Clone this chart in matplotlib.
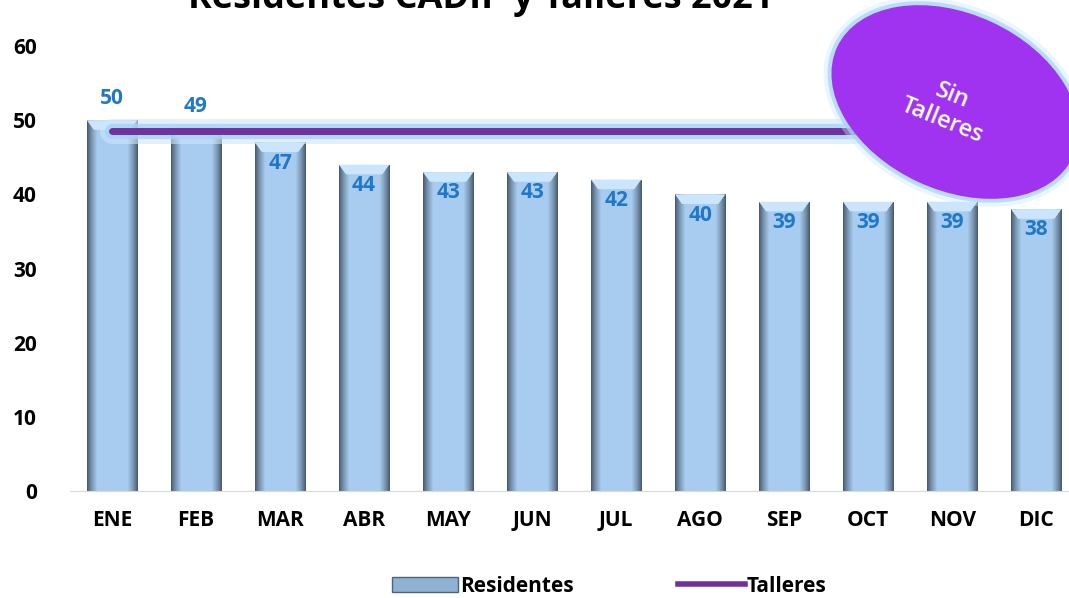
import matplotlib.pyplot as plt
import matplotlib.patheffects as pe
from matplotlib.patches import Ellipse, Polygon, Patch
from matplotlib.lines import Line2D
import numpy as np

plt.rcParams['font.family'] = ['Open Sans', 'DejaVu Sans']

# datos
meses = ['ENE', 'FEB', 'MAR', 'ABR', 'MAY', 'JUN', 'JUL', 'AGO', 'SEP', 'OCT', 'NOV', 'DIC']
residentes = [50, 49, 47, 44, 43, 43, 42, 40, 39, 39, 39, 38]
talleres = [48.5, 48.5, 48.5, 48.5, 48.5, 48.5, 48.5, 48.5, 48.5, 48.5]
y_ticks = [0, 10, 20, 30, 40, 50, 60]

fig = plt.figure(figsize=(10.69, 5.98), dpi=100)
ax = fig.add_axes([0.0655, 0.179, 0.9345, 0.744])

x = np.arange(len(meses))
ancho = 0.6
barras = ax.bar(x, residentes, width=ancho, color='#A9CDF0', zorder=2)

# efecto biselado: degradado horizontal recortado a cada barra
grad = np.linspace(0, 1, 100)
perfil = np.clip(np.minimum(grad, 1 - grad) / 0.2, 0, 1) ** 0.8
oscuro = np.array([0.27, 0.34, 0.42])
claro = np.array([0.66, 0.80, 0.94])
img = oscuro[None, :] + (claro - oscuro)[None, :] * perfil[:, None]
img = img[None, :, :]
for b, v in zip(barras, residentes):
    x0 = b.get_x()
    w = b.get_width()
    im = ax.imshow(img, extent=[x0, x0 + w, 0, v], aspect='auto', zorder=2.5,
                   interpolation='bilinear')
    im.set_clip_path(b)
    # tapa superior
    d = 0.14 * w
    tapa = Polygon([[x0, v], [x0 + w, v], [x0 + w - d, v - 1.3], [x0 + d, v - 1.3]],
                   closed=True, facecolor='#CBE6FC', edgecolor='none', zorder=3)
    ax.add_patch(tapa)

ax.set_xlim(-0.5, 11.39)
ax.set_ylim(0, 60)

# linea talleres con brillo
xt = np.arange(len(talleres))
ax.plot(xt, talleres, color='#7030A0', lw=5, zorder=4, solid_capstyle='round',
        path_effects=[pe.Stroke(linewidth=18, foreground='#CDE6FB', alpha=0.6),
                      pe.Stroke(linewidth=11, foreground='#A5D2F5', alpha=0.8),
                      pe.Normal()])

# etiquetas de datos
for i, v in enumerate(residentes):
    dy = 2.9 if i < 2 else -2.8
    ax.text(i, v + dy, str(v), ha='center', va='center', color='#1F78C8',
            fontsize=15, fontweight='bold', zorder=6)

# elipse "Sin Talleres" en pulgadas (sin deformar)
tr = fig.dpi_scale_trans
centro = (9.55, 4.96)
for k, (a, c) in enumerate([(0.4, '#CDE6FB'), (0.7, '#A5D2F5')]):
    glow = Ellipse(centro, 2.76 - 0.08 * k, 1.92 - 0.08 * k, angle=-25,
                   facecolor=c, edgecolor='none', alpha=a, zorder=5, transform=tr)
    fig.patches.append(glow)
elipse = Ellipse(centro, 2.6, 1.76, angle=-25, facecolor='#A033F0',
                 edgecolor='none', zorder=6, transform=tr)
fig.patches.append(elipse)
fig.text(9.47 / 10.69, 4.9 / 5.98, 'Sin\nTalleres', color='white', fontsize=17,
         fontweight='semibold', ha='center', va='center', rotation=-22, zorder=7,
         linespacing=1.15)

ax.set_xticks(x)
ax.set_xticklabels(meses, fontsize=15, fontweight='bold')
ax.set_yticks(y_ticks)
ax.set_yticklabels([str(t) for t in y_ticks], fontsize=15, fontweight='bold')
ax.tick_params(axis='both', length=0, pad=14)
ax.tick_params(axis='y', pad=24)
for s in ['top', 'right', 'left']:
    ax.spines[s].set_visible(False)
ax.spines['bottom'].set_color('#D9D9D9')

fig.text(0.45, 1 - 8 / 598, 'Residentes CADIP y Talleres 2021', ha='center',
         va='baseline', fontsize=26, fontweight='bold')

handles = [Patch(facecolor='#8EB2D4', edgecolor='#4F6478'),
           Line2D([0], [0], color='#7030A0', lw=4)]
fig.legend(handles, ['Residentes', 'Talleres'], loc='center', ncol=2,
           bbox_to_anchor=(0.57, 1 - 586 / 598), frameon=False,
           prop={'weight': 'bold', 'size': 15},
           handlelength=3.2, handletextpad=0.1, columnspacing=5)

fig.savefig('out.png', dpi=100)
